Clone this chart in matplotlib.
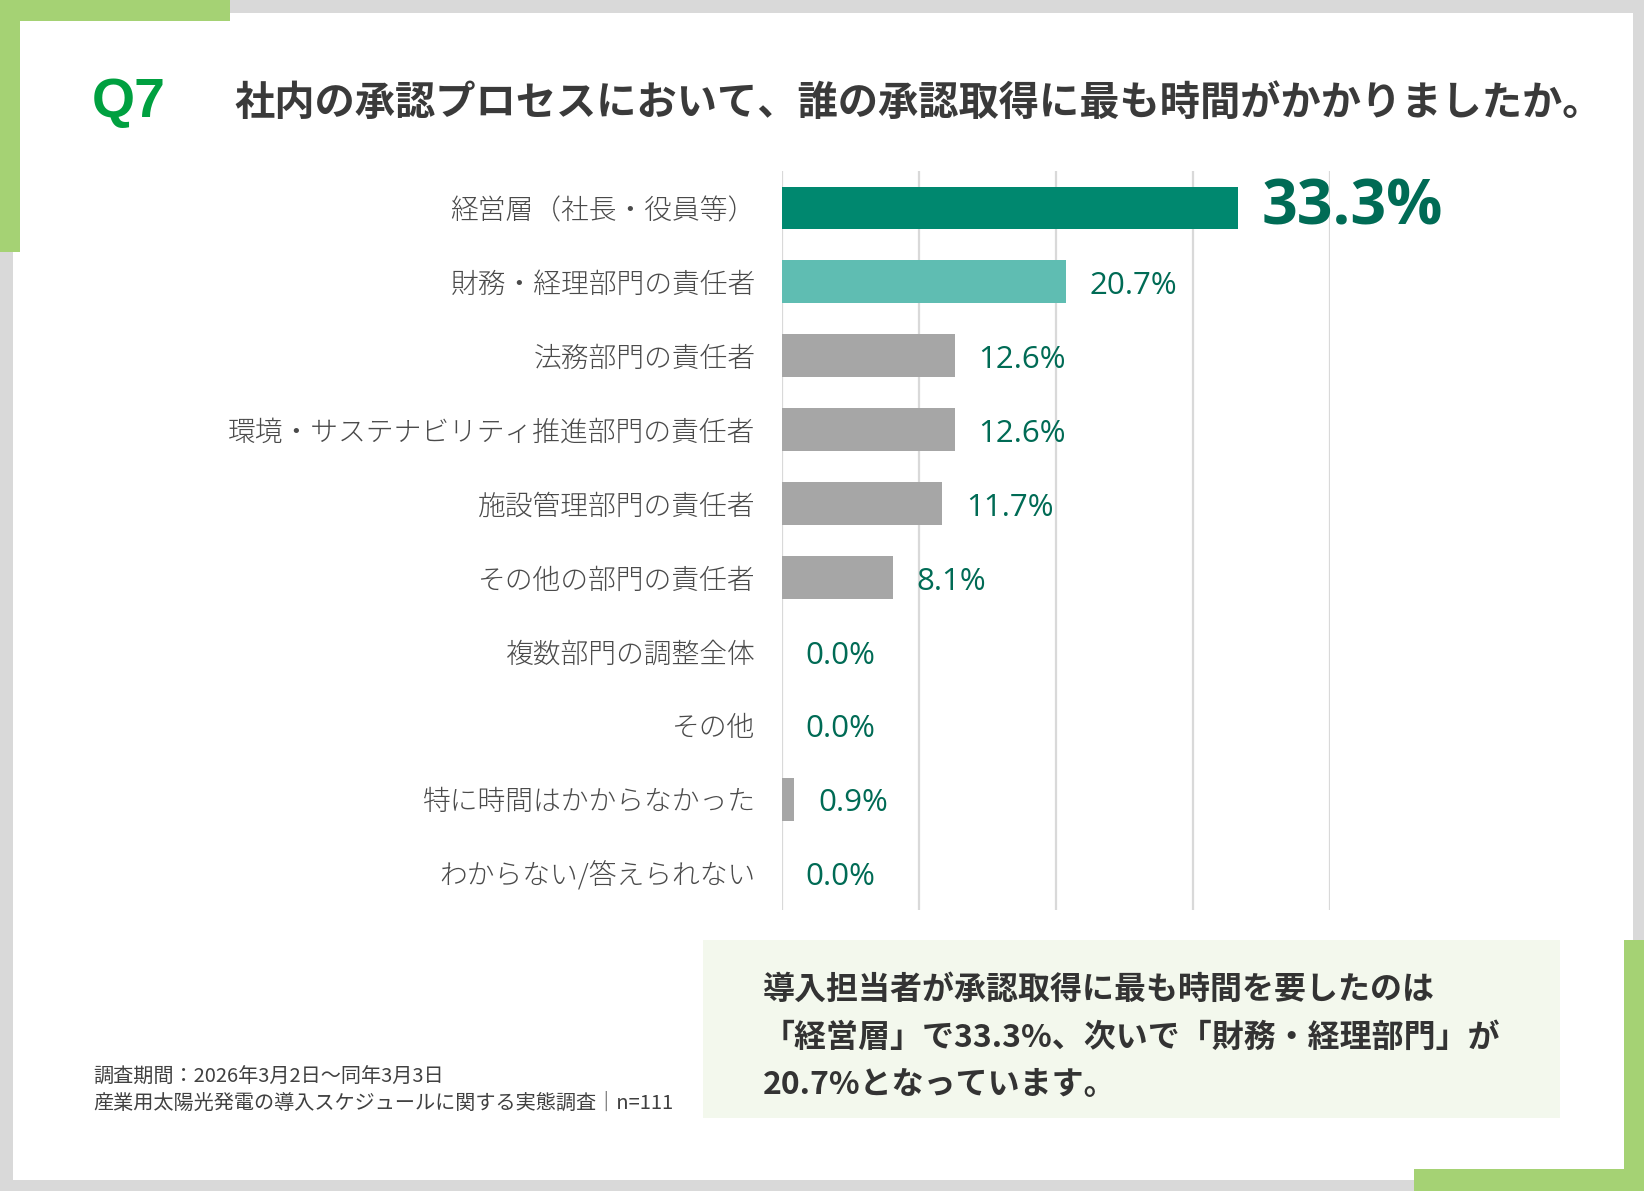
import matplotlib.pyplot as plt
from matplotlib.patches import Rectangle

plt.rcParams['font.family'] = ['Noto Sans CJK JP', 'DejaVu Sans']

W, H = 1644, 1191

categories = ['経営層（社長・役員等）', '財務・経理部門の責任者', '法務部門の責任者',
              '環境・サステナビリティ推進部門の責任者', '施設管理部門の責任者',
              'その他の部門の責任者', '複数部門の調整全体', 'その他',
              '特に時間はかからなかった', 'わからない/答えられない']
values = [33.3, 20.7, 12.6, 12.6, 11.7, 8.1, 0.0, 0.0, 0.9, 0.0]
bar_colors = ['#00886f', '#5fbdb2'] + ['#a6a6a6'] * 8
grid_ticks = [0, 10, 20, 30, 40]

title_q = 'Q7'
title = '社内の承認プロセスにおいて、誰の承認取得に最も時間がかかりましたか。'
summary = ['導入担当者が承認取得に最も時間を要したのは',
           '「経営層」で33.3%、次いで「財務・経理部門」が',
           '20.7%となっています。']
footer = ['調査期間：2026年3月2日～同年3月3日',
          '産業用太陽光発電の導入スケジュールに関する実態調査｜n=111']

fig = plt.figure(figsize=(W / 100, H / 100), dpi=100)
fig.patch.set_facecolor('#d9d9d9')


def box(x0, y0, x1, y1, color):
    # pixel coords, origin top-left
    fig.patches.append(Rectangle((x0 / W, 1 - y1 / H), (x1 - x0) / W, (y1 - y0) / H,
                                 transform=fig.transFigure, color=color, zorder=-1, lw=0))


box(13, 13, 1633, 1180, 'white')
box(0, 0, 230, 21, '#a5d274')
box(0, 0, 20, 252, '#a5d274')
box(1414, 1169, 1644, 1191, '#a5d274')
box(1624, 940, 1644, 1191, '#a5d274')
box(703, 940, 1560, 1118, '#f3f8ed')

fig.text(92 / W, 1 - 103 / H, title_q, fontsize=40, fontweight='bold', color='#00a040',
         family='Liberation Sans', va='center', ha='left')
fig.text(234 / W, 1 - 103 / H, title, fontsize=29, fontweight='bold', color='#3a3a3a',
         va='center', ha='left')

for i, line in enumerate(summary):
    fig.text(763 / W, 1 - (990 + 47.5 * i) / H, line, fontsize=23, fontweight='bold',
             color='#333333', va='center', ha='left')

for i, line in enumerate(footer):
    fig.text(93 / W, 1 - (1077 + 26 * i) / H, line, fontsize=14.5, color='#404040',
             va='center', ha='left')

ax = fig.add_axes([782 / W, 1 - 910 / H, 548 / W, 739 / H])
ax.set_facecolor('none')
y = list(range(len(categories)))
ax.barh(y, values, height=0.58, color=bar_colors, zorder=2)
ax.set_xlim(0, 40)
ax.set_ylim(len(categories) - 0.5, -0.5)
ax.set_xticks(grid_ticks)
ax.set_xticklabels([])
ax.xaxis.grid(True, color='#d9d9d9', lw=1.6)
ax.set_axisbelow(True)
ax.tick_params(axis='x', length=0)
ax.set_yticks(y)
ax.set_yticklabels(categories, fontsize=20, fontweight='light', color='#4a4a4a')
ax.tick_params(axis='y', length=0, pad=19)
for s in ax.spines.values():
    s.set_visible(False)

for i, v in enumerate(values):
    if i == 0:
        ax.annotate(f'{v:.1f}%', (v, i), xytext=(17, 0), textcoords='offset points',
                    fontsize=45, fontweight='bold', color='#006b55', family='Open Sans',
                    va='center', ha='left', annotation_clip=False)
    else:
        ax.annotate(f'{v:.1f}%', (v, i), xytext=(17, -3), textcoords='offset points',
                    fontsize=22.5, color='#006b55', family='Open Sans',
                    va='center', ha='left', annotation_clip=False)

fig.savefig('out.png', dpi=100, facecolor=fig.get_facecolor())
